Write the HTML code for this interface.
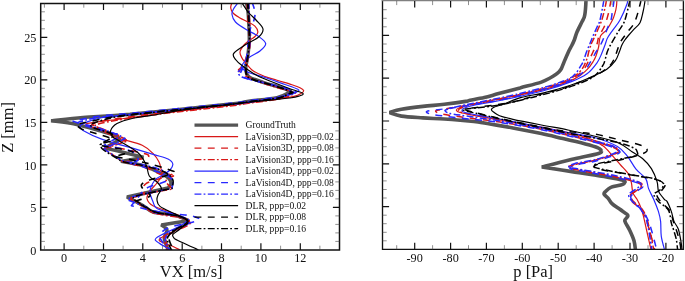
<!DOCTYPE html>
<html><head><meta charset="utf-8"><title>plot</title>
<style>
html,body{margin:0;padding:0;background:#fff;}
svg{display:block;}
text{font-family:"Liberation Serif",serif;fill:#111;}
</style></head><body>
<svg width="685" height="281" viewBox="0 0 685 281">
<rect width="685" height="281" fill="#fff"/>
<defs><clipPath id="cl"><rect x="40.7" y="3.45" width="298.8" height="246.45"/></clipPath><clipPath id="cr"><rect x="382.5" y="0" width="301" height="249.4"/></clipPath></defs>
<g clip-path="url(#cl)" fill="none" stroke-linejoin="round">
<path d="M246.4 2.0C246.7 3.7 247.6 9.0 248.0 12.0C248.4 15.0 248.4 15.3 248.6 20.0C248.8 24.7 249.4 34.2 249.3 40.0C249.2 45.8 248.5 50.3 247.9 55.0C247.3 59.7 245.9 65.0 245.7 68.0C245.5 71.0 245.8 71.4 246.5 73.0C247.2 74.6 247.2 76.0 250.0 77.5C252.8 79.0 257.8 80.6 263.0 82.3C268.2 84.0 276.7 86.1 281.4 87.6C286.1 89.1 289.7 90.8 291.4 91.4C289.0 92.5 284.1 96.1 277.0 97.7C269.9 99.3 256.8 100.1 248.6 101.2C240.4 102.3 247.8 102.1 228.0 104.3C208.2 106.5 154.2 112.1 130.0 114.3C105.8 116.5 96.1 116.4 82.9 117.5C69.8 118.6 56.4 120.2 51.1 120.7C55.2 121.3 67.6 122.6 75.7 124.3C83.8 126.0 93.3 128.8 100.0 130.7C106.7 132.6 112.7 134.3 116.0 135.8C119.3 137.3 119.3 138.9 120.0 139.5C117.5 140.9 107.5 146.6 105.0 148.0C108.3 148.8 118.6 151.2 125.0 152.8C131.4 154.4 140.4 156.6 143.5 157.3C139.8 158.0 124.8 160.7 121.0 161.4C124.7 162.1 136.0 163.5 143.0 165.7C150.0 167.9 158.7 172.4 163.0 174.5C167.3 176.6 167.7 177.0 169.0 178.5C170.3 180.0 171.2 181.9 171.0 183.5C170.8 185.1 168.5 187.2 168.0 188.0C161.2 189.5 133.8 195.5 127.0 197.0C129.9 198.6 140.0 203.9 144.3 206.4C148.6 208.9 148.0 210.6 153.0 212.0C158.0 213.4 168.4 213.6 174.3 215.0C180.2 216.4 186.2 219.8 188.6 220.7C184.1 221.4 165.9 224.3 161.4 225.0C162.3 225.8 166.5 227.7 167.0 230.0C167.5 232.3 164.0 235.1 164.3 238.6C164.6 242.1 167.9 248.9 168.6 251.0" stroke="#555" stroke-width="3.5" stroke-linejoin="bevel"/>
<path d="M232.1 2.0C231.9 3.0 230.5 6.1 230.7 8.0C230.9 9.9 231.9 11.8 233.5 13.5C235.1 15.2 237.7 16.6 240.0 18.0C242.3 19.4 244.9 20.3 247.4 21.7C249.9 23.1 253.2 24.5 254.9 26.2C256.6 27.9 257.9 30.3 257.9 32.0C257.9 33.7 256.3 35.2 255.0 36.5C253.7 37.8 251.8 38.6 250.0 40.0C248.2 41.4 245.7 43.0 244.0 45.0C242.3 47.0 240.3 49.8 240.0 52.0C239.7 54.2 241.2 56.3 242.0 58.0C242.8 59.7 243.2 59.9 245.0 62.0C246.8 64.1 249.7 68.3 253.0 70.7C256.3 73.1 261.0 74.9 265.0 76.5C269.0 78.1 272.5 78.8 277.0 80.2C281.5 81.6 288.2 83.4 292.0 84.7C295.8 86.0 298.1 86.8 300.0 87.8C301.9 88.8 303.5 89.8 303.7 90.7C303.9 91.7 302.6 92.6 301.0 93.5C299.4 94.4 299.2 95.2 294.0 96.3C288.8 97.4 281.0 98.5 270.0 100.0C259.0 101.5 246.3 103.2 228.0 105.5C209.7 107.8 178.0 111.2 160.0 113.5C142.0 115.8 130.5 117.6 120.0 119.0C109.5 120.4 102.7 121.1 97.0 122.0C91.3 122.9 85.5 123.2 86.0 124.5C86.5 125.8 94.5 127.7 100.0 130.0C105.5 132.3 111.7 135.7 118.7 138.2C125.7 140.7 136.3 142.5 142.2 145.2C148.1 147.9 151.2 151.8 154.0 154.6C156.8 157.4 157.8 159.7 159.0 162.0C160.2 164.3 160.5 166.5 161.0 168.7C161.5 170.9 162.7 172.6 162.0 175.0C161.3 177.4 159.0 180.3 157.0 183.0C155.0 185.7 151.7 188.4 150.0 191.0C148.3 193.6 146.5 196.2 147.0 198.6C147.5 201.0 149.1 203.5 152.9 205.7C156.7 207.9 164.8 210.0 170.0 212.0C175.2 214.0 180.8 216.3 184.0 217.9C187.2 219.5 190.0 219.7 189.3 221.4C188.6 223.1 184.9 225.1 180.0 228.0C175.1 230.9 162.7 236.1 160.0 238.6C157.3 241.1 162.1 241.8 164.0 243.0C165.9 244.2 168.7 244.5 171.4 245.7C174.1 246.9 178.6 249.3 180.0 250.0" stroke="#d81818" stroke-width="1.2"/>
<path d="M247.0 2.0C247.2 5.0 247.7 13.7 248.0 20.0C248.3 26.3 249.2 34.2 249.0 40.0C248.8 45.8 248.0 50.8 247.0 55.0C246.0 59.2 244.4 62.5 243.0 65.0C241.6 67.5 239.2 69.2 238.5 70.0C239.3 70.8 241.4 73.3 243.3 74.6C245.2 75.9 246.7 76.7 250.0 78.0C253.3 79.3 257.5 80.9 263.0 82.6C268.5 84.3 277.8 86.8 283.0 88.4C288.2 90.0 292.2 91.4 294.0 92.0C291.7 92.9 287.6 95.8 280.0 97.5C272.4 99.2 257.3 100.8 248.6 102.0C239.9 103.2 242.8 103.2 228.0 105.0C213.2 106.8 177.2 110.7 160.0 112.8C142.8 114.9 135.0 116.1 125.0 117.6C115.0 119.0 105.5 120.3 100.0 121.5C94.5 122.7 93.1 124.2 91.7 124.7C93.9 125.6 100.3 128.1 105.0 130.0C109.7 131.9 116.5 134.3 120.0 136.0C123.5 137.7 125.0 139.3 126.0 140.0C123.7 140.8 115.8 143.4 112.0 144.5C108.2 145.6 104.9 146.3 103.5 146.7C106.2 147.0 114.8 147.5 120.0 148.3C125.2 149.1 130.4 150.5 135.0 151.5C139.6 152.5 145.2 153.5 147.5 154.5C149.8 155.5 148.3 157.0 148.5 157.5C146.2 157.9 139.1 159.2 135.0 160.0C130.9 160.8 125.8 161.9 124.0 162.3C127.5 163.2 138.5 165.4 145.0 167.5C151.5 169.6 158.5 173.8 163.0 175.0C167.5 176.2 170.4 174.6 171.9 174.5C169.8 175.2 163.7 177.2 159.4 178.7C155.1 180.2 148.8 181.8 146.0 183.6C143.2 185.3 143.2 188.3 142.7 189.2C142.9 189.8 145.3 191.7 144.0 192.8C142.7 193.9 137.3 195.0 135.0 196.0C132.7 197.0 130.8 198.5 130.0 199.0C132.3 200.3 140.2 204.6 144.0 206.8C147.8 209.0 148.0 210.8 153.0 212.3C158.0 213.8 168.7 214.7 174.0 215.8C179.3 216.9 182.4 217.7 185.0 218.7C187.6 219.7 189.4 220.5 189.5 221.6C189.6 222.7 188.3 223.5 185.5 225.0C182.7 226.5 175.8 228.7 172.5 230.5C169.2 232.3 166.8 234.2 165.5 236.0C164.2 237.8 164.1 238.5 164.5 241.0C164.9 243.5 167.4 249.3 168.0 251.0" stroke="#d81818" stroke-width="1.6" stroke-dasharray="6.9 6.4"/>
<path d="M248.5 2.0C248.7 5.0 249.2 13.7 249.5 20.0C249.8 26.3 250.7 34.2 250.5 40.0C250.3 45.8 249.2 50.3 248.5 55.0C247.8 59.7 246.8 64.8 246.5 68.0C246.2 71.2 245.8 72.2 246.5 74.0C247.2 75.8 248.1 76.9 251.0 78.5C253.9 80.1 258.5 81.7 264.0 83.5C269.5 85.3 278.8 87.8 284.0 89.4C289.2 91.0 293.6 92.4 295.5 93.0C293.1 93.9 288.6 96.8 281.0 98.5C273.4 100.2 258.6 101.8 250.0 103.0C241.4 104.2 244.5 104.2 229.5 106.0C214.5 107.8 177.4 111.8 160.0 114.0C142.6 116.2 134.7 117.4 125.0 118.9C115.3 120.4 107.1 121.8 102.0 123.0C96.9 124.2 95.7 125.3 94.4 125.8C96.3 126.7 101.6 129.1 106.0 131.0C110.4 132.9 117.4 135.3 121.0 137.0C124.6 138.7 126.4 140.3 127.5 141.0C125.2 141.8 117.4 144.2 113.5 145.5C109.6 146.8 105.6 148.2 104.0 148.8C106.3 150.4 114.5 156.2 118.0 158.5C121.5 160.8 120.8 161.1 125.0 162.3C129.2 163.6 137.2 164.6 143.0 166.0C148.8 167.4 155.8 169.2 160.0 170.5C164.2 171.8 165.8 173.1 168.0 174.0C170.2 174.9 172.5 175.7 173.4 176.0C172.2 176.8 166.2 178.8 166.0 181.0C165.8 183.2 171.4 187.7 172.5 189.0C168.8 189.7 156.8 191.5 150.0 193.0C143.2 194.5 134.6 197.2 131.5 198.0C133.8 199.6 141.7 205.2 145.5 207.8C149.3 210.4 149.5 211.8 154.5 213.3C159.5 214.8 170.2 215.8 175.5 216.8C180.8 217.8 183.5 218.6 186.0 219.5C188.5 220.4 190.4 221.3 190.5 222.4C190.6 223.5 189.2 224.5 186.5 226.0C183.8 227.5 177.2 229.7 174.0 231.5C170.8 233.3 168.3 235.2 167.0 237.0C165.7 238.8 165.6 239.7 166.0 242.0C166.4 244.3 168.9 249.5 169.5 251.0" stroke="#d81818" stroke-width="1.6" stroke-dasharray="6.9 2.2 1.8 2.4"/>
<path d="M238.6 2.0C237.8 3.2 234.6 6.9 233.5 9.0C232.4 11.1 231.7 12.3 232.0 14.5C232.3 16.7 233.0 19.4 235.5 22.0C238.0 24.6 243.2 27.7 247.0 30.0C250.8 32.3 254.9 33.7 258.0 36.0C261.1 38.3 265.4 41.1 265.7 43.6C266.0 46.1 262.9 48.6 260.0 51.0C257.1 53.4 251.7 55.3 248.6 57.9C245.5 60.5 242.2 64.4 241.4 66.4C240.6 68.4 242.6 68.9 244.0 70.0C245.4 71.1 246.5 71.8 250.0 73.0C253.5 74.2 259.2 75.6 265.0 77.5C270.8 79.4 279.8 82.7 285.0 84.5C290.2 86.3 293.7 87.5 296.0 88.5C298.3 89.5 299.0 89.6 299.0 90.3C299.0 91.0 297.8 91.6 296.0 92.5C294.2 93.4 293.7 94.2 288.0 95.5C282.3 96.8 272.0 99.0 262.0 100.5C252.0 102.0 250.0 102.2 228.0 104.5C206.0 106.8 151.3 112.2 130.0 114.4C108.7 116.7 107.3 116.7 100.0 118.0C92.7 119.3 89.3 121.2 86.0 122.5C82.7 123.8 80.3 124.6 80.0 126.0C79.7 127.4 80.3 128.8 84.0 131.0C87.7 133.2 94.5 136.6 102.3 139.4C110.0 142.2 121.9 145.1 130.5 147.6C139.1 150.1 147.8 152.7 154.0 154.6C160.2 156.5 164.9 157.4 168.0 159.0C171.1 160.6 172.5 162.2 172.8 164.0C173.1 165.8 171.6 168.2 170.0 170.0C168.4 171.8 165.9 172.9 163.4 174.6C160.9 176.3 157.2 177.2 155.0 180.0C152.8 182.8 150.3 187.8 150.0 191.4C149.7 195.0 151.7 198.5 152.9 201.4C154.1 204.3 153.4 206.4 157.0 208.6C160.6 210.8 169.6 212.6 174.3 214.3C179.0 216.0 183.1 217.3 185.0 218.6C186.9 219.9 187.2 220.6 186.0 222.0C184.8 223.4 182.9 224.3 178.0 227.0C173.1 229.7 159.6 235.2 156.4 237.9C153.2 240.6 157.4 241.5 159.0 243.0C160.6 244.5 163.5 245.8 165.7 247.0C167.9 248.2 170.9 249.5 172.0 250.0" stroke="#2828ff" stroke-width="1.2"/>
<path d="M252.0 2.0C252.5 3.7 254.7 9.0 255.0 12.0C255.3 15.0 254.8 17.0 254.0 20.0C253.2 23.0 251.0 25.8 250.0 30.0C249.0 34.2 248.7 40.0 248.0 45.0C247.3 50.0 247.3 55.2 246.0 60.0C244.7 64.8 241.0 71.7 240.0 74.0C240.9 74.7 241.5 76.5 245.7 78.0C249.9 79.5 258.4 81.3 265.0 83.0C271.6 84.7 279.8 86.6 285.0 88.0C290.2 89.4 294.2 90.9 296.0 91.5C294.2 92.2 292.7 94.5 285.0 96.0C277.3 97.5 259.5 99.2 250.0 100.5C240.5 101.8 248.0 101.3 228.0 103.5C208.0 105.7 151.3 111.3 130.0 113.4C108.7 115.5 109.5 114.7 100.0 116.0C90.5 117.3 77.5 120.3 73.0 121.2C76.1 122.3 85.9 126.0 91.7 127.8C97.5 129.6 104.2 130.9 107.7 131.8C111.2 132.8 111.1 133.1 113.0 133.5C114.9 133.9 118.0 133.9 119.0 134.0C119.0 134.5 120.5 135.7 119.0 137.0C117.5 138.3 112.5 140.2 110.0 141.6C107.5 143.0 105.0 144.8 104.0 145.5C106.3 145.9 113.3 147.0 118.0 148.0C122.7 149.0 128.9 150.2 132.0 151.5C135.1 152.8 135.5 154.5 136.4 156.0C137.3 157.5 139.1 159.4 137.7 160.5C136.3 161.6 129.6 162.2 128.0 162.5C130.8 163.3 138.8 165.5 145.0 167.5C151.2 169.5 160.5 172.6 165.0 174.5C169.5 176.4 170.8 178.2 172.0 179.0C170.0 179.8 163.7 182.2 160.0 183.5C156.3 184.8 152.7 185.6 150.0 186.6C147.3 187.6 145.0 189.0 144.0 189.5C143.3 190.4 142.1 192.3 140.0 195.0C137.9 197.7 132.8 203.9 131.4 205.7C135.0 206.5 145.7 209.3 153.0 210.7C160.3 212.1 168.7 213.2 175.0 214.0C181.3 214.8 186.6 214.9 190.7 215.7C194.8 216.5 197.9 218.1 199.3 218.6C198.6 219.1 200.2 219.8 195.0 221.4C189.8 223.0 173.8 225.6 168.0 228.0C162.2 230.4 160.8 233.5 160.0 236.0C159.2 238.5 161.8 240.5 163.0 243.0C164.2 245.5 166.3 249.7 167.0 251.0" stroke="#2828ff" stroke-width="1.6" stroke-dasharray="6.9 6.4"/>
<path d="M249.0 2.0C249.0 5.0 248.8 13.7 249.0 20.0C249.2 26.3 250.2 34.2 250.0 40.0C249.8 45.8 249.0 50.7 248.0 55.0C247.0 59.3 245.7 63.2 244.0 66.0C242.3 68.8 239.0 71.0 238.0 72.0C238.7 72.8 238.0 75.2 242.0 77.0C246.0 78.8 255.2 80.7 262.0 82.5C268.8 84.3 277.8 86.4 283.0 88.0C288.2 89.6 291.3 91.3 293.0 92.0C290.7 92.9 286.4 95.9 279.0 97.5C271.6 99.1 257.1 100.3 248.6 101.5C240.1 102.7 247.8 102.4 228.0 104.6C208.2 106.8 152.2 112.4 130.0 114.6C107.8 116.8 103.7 116.7 95.0 118.0C86.3 119.3 80.8 121.8 78.0 122.5C81.3 123.4 91.7 126.1 98.0 128.0C104.3 129.9 111.5 132.2 116.0 134.0C120.5 135.8 123.5 137.8 125.0 138.5C122.8 139.6 115.7 143.3 112.0 145.0C108.3 146.7 104.5 147.9 103.0 148.5C105.4 150.0 113.7 155.4 117.3 157.5C120.9 159.6 120.4 160.1 124.5 161.3C128.6 162.5 136.1 163.1 142.0 164.5C147.9 165.9 155.7 167.8 160.0 169.5C164.3 171.2 165.9 172.6 168.0 174.5C170.1 176.4 171.8 178.7 172.5 181.0C173.2 183.3 172.1 187.2 172.0 188.4C165.8 189.7 142.3 194.1 135.0 196.0C127.7 197.9 129.2 199.3 128.0 200.0C131.0 201.2 141.5 204.9 146.0 207.0C150.5 209.1 150.0 211.1 155.0 212.5C160.0 213.9 170.8 214.5 176.0 215.5C181.2 216.5 183.7 217.5 186.0 218.5C188.3 219.5 190.0 220.4 190.0 221.5C190.0 222.6 188.8 223.5 186.0 225.0C183.2 226.5 176.2 228.7 173.0 230.5C169.8 232.3 167.8 234.2 166.5 236.0C165.2 237.8 164.9 238.5 165.5 241.0C166.1 243.5 169.2 249.3 170.0 251.0" stroke="#2828ff" stroke-width="1.6" stroke-dasharray="6.9 2.2 1.8 2.4"/>
<path d="M241.4 2.0C242.6 3.8 246.1 9.5 248.5 12.5C250.9 15.5 253.6 17.2 256.0 20.0C258.4 22.8 262.6 26.2 263.0 29.0C263.4 31.8 261.6 34.3 258.6 37.0C255.6 39.7 249.2 42.2 245.0 45.0C240.8 47.8 235.1 51.1 233.6 53.6C232.1 56.1 234.7 58.1 236.0 60.0C237.3 61.9 237.9 62.4 241.4 65.0C244.9 67.6 251.4 72.5 257.0 75.5C262.6 78.5 269.2 80.7 275.0 83.0C280.8 85.3 287.8 88.0 292.0 89.5C296.2 91.0 298.1 91.3 300.0 92.0C301.9 92.7 303.3 93.3 303.3 93.9C303.3 94.5 302.2 95.0 300.0 95.7C297.8 96.4 297.5 97.0 290.0 98.0C282.5 99.0 265.3 100.4 255.0 101.5C244.7 102.6 237.2 103.6 228.0 104.6C218.8 105.6 208.8 106.5 200.0 107.6C191.2 108.7 183.3 109.8 175.0 111.2C166.7 112.6 156.8 114.6 150.0 115.7C143.2 116.8 139.5 116.7 134.0 118.0C128.5 119.3 120.9 121.4 117.0 123.6C113.1 125.8 111.2 128.8 110.5 131.0C109.8 133.2 111.6 135.4 113.0 137.0C114.4 138.6 114.6 137.9 118.7 140.5C122.8 143.1 133.0 148.4 137.5 152.3C142.0 156.2 143.8 160.1 145.8 164.0C147.8 167.9 147.4 173.0 149.3 176.0C151.2 179.0 155.0 179.9 157.0 182.0C159.0 184.1 161.2 186.4 161.4 188.6C161.6 190.8 158.7 193.1 158.0 195.0C157.3 196.9 156.7 198.1 157.0 200.0C157.3 201.9 157.1 204.1 160.0 206.4C162.9 208.7 170.2 211.6 174.3 213.6C178.4 215.6 182.2 217.2 184.3 218.6C186.4 220.0 187.7 220.3 187.0 222.0C186.3 223.7 182.3 226.9 180.0 229.0C177.7 231.1 173.9 232.8 172.9 234.3C171.9 235.8 173.3 237.1 174.0 238.0C174.7 238.9 173.4 238.2 177.0 240.0C180.6 241.8 192.0 246.8 195.7 248.6C199.4 250.4 198.4 250.6 199.0 251.0" stroke="#000" stroke-width="1.2"/>
<path d="M248.0 2.0C248.2 5.0 248.8 13.7 249.0 20.0C249.2 26.3 249.7 34.2 249.5 40.0C249.3 45.8 248.6 50.3 248.0 55.0C247.4 59.7 246.2 64.7 246.0 68.0C245.8 71.3 246.0 73.2 247.0 75.0C248.0 76.8 249.0 77.7 252.0 79.0C255.0 80.3 259.8 81.4 265.0 83.0C270.2 84.6 278.3 86.9 283.0 88.5C287.7 90.1 291.3 91.8 293.0 92.5C290.7 93.4 286.4 96.5 279.0 98.0C271.6 99.5 257.1 100.5 248.6 101.6C240.1 102.7 247.8 102.2 228.0 104.4C208.2 106.6 152.0 112.0 130.0 114.6C108.0 117.2 105.0 118.5 96.0 120.2C87.0 121.9 79.3 123.8 76.0 124.5C76.9 125.2 78.2 127.4 81.5 128.9C84.8 130.4 91.2 132.1 96.0 133.6C100.8 135.1 107.3 136.8 110.0 138.0C112.7 139.2 111.7 140.5 112.0 141.0C110.0 141.7 98.7 143.7 100.0 145.0C101.3 146.3 114.5 147.7 120.0 148.8C125.5 149.9 130.8 151.3 133.0 151.8C129.8 152.6 117.2 155.7 114.0 156.5C117.5 157.2 129.0 159.2 135.0 160.5C141.0 161.8 144.9 162.7 150.0 164.0C155.1 165.3 161.6 167.2 165.6 168.5C169.6 169.8 172.6 171.0 174.0 171.5C172.5 172.2 168.5 174.8 165.0 176.0C161.5 177.2 156.2 178.1 153.0 179.0C149.8 179.9 147.7 180.2 145.8 181.2C143.9 182.2 141.9 183.5 141.4 184.8C140.9 186.1 141.6 187.1 143.0 189.0C144.4 190.9 151.3 194.0 150.0 196.0C148.7 198.0 137.5 200.2 135.0 201.0C136.8 202.1 142.3 205.6 146.0 207.5C149.7 209.4 152.0 211.2 157.0 212.5C162.0 213.8 171.3 214.5 176.0 215.5C180.7 216.5 182.9 217.5 185.0 218.5C187.1 219.5 188.5 220.4 188.5 221.5C188.5 222.6 187.3 223.5 185.0 225.0C182.7 226.5 177.0 228.7 174.5 230.5C172.0 232.3 170.8 234.2 170.0 236.0C169.2 237.8 168.8 238.5 169.5 241.0C170.2 243.5 173.2 249.3 174.0 251.0" stroke="#000" stroke-width="1.6" stroke-dasharray="6.9 6.4"/>
<path d="M247.5 2.0C247.7 5.0 248.2 13.7 248.5 20.0C248.8 26.3 249.6 34.2 249.5 40.0C249.4 45.8 248.6 50.3 248.0 55.0C247.4 59.7 246.2 64.7 246.0 68.0C245.8 71.3 245.7 73.2 246.5 75.0C247.3 76.8 248.1 77.7 251.0 79.0C253.9 80.3 258.8 81.5 264.0 83.0C269.2 84.5 277.3 86.8 282.0 88.3C286.7 89.8 290.3 91.5 292.0 92.2C289.7 93.2 285.2 96.4 278.0 98.0C270.8 99.6 256.9 100.7 248.6 101.8C240.3 102.9 247.8 102.6 228.0 104.8C208.2 107.0 150.5 112.5 130.0 115.0C109.5 117.5 111.5 118.0 105.0 119.5C98.5 121.0 93.2 123.4 90.8 124.2C91.2 124.8 89.5 125.9 93.0 127.5C96.5 129.1 109.0 132.2 112.0 134.0C115.0 135.8 112.3 136.7 111.0 138.0C109.7 139.3 105.8 140.9 104.0 142.0C102.2 143.1 100.9 144.2 100.3 144.7C100.8 145.5 100.3 147.3 103.0 149.5C105.7 151.7 113.0 155.9 116.5 158.0C120.0 160.1 119.8 160.8 124.0 162.0C128.2 163.2 136.0 164.0 142.0 165.3C148.0 166.6 155.6 168.5 160.0 170.0C164.4 171.5 166.3 172.8 168.5 174.5C170.7 176.2 172.4 178.2 173.0 180.5C173.6 182.8 172.2 187.1 172.0 188.4C166.3 189.6 144.5 193.7 138.0 195.5C131.5 197.3 133.8 198.4 133.0 199.0C135.2 200.3 142.2 204.8 146.0 207.0C149.8 209.2 151.0 211.1 156.0 212.5C161.0 213.9 171.2 214.5 176.0 215.5C180.8 216.5 182.5 217.4 184.5 218.3C186.5 219.2 188.0 220.1 188.0 221.2C188.0 222.3 186.9 223.1 184.5 224.7C182.1 226.2 176.2 228.6 173.5 230.5C170.8 232.4 169.5 234.2 168.5 236.0C167.5 237.8 166.9 238.5 167.5 241.0C168.1 243.5 171.2 249.3 172.0 251.0" stroke="#000" stroke-width="1.6" stroke-dasharray="6.9 2.2 1.8 2.4"/>
</g>
<g clip-path="url(#cr)" fill="none" stroke-linejoin="round">
<path d="M586.0 0.0C586.0 1.0 585.8 4.0 585.7 6.0C585.6 8.0 585.4 10.2 585.2 12.0C585.0 13.8 584.8 15.4 584.3 17.0C583.8 18.6 583.2 19.3 582.0 21.8C580.8 24.3 578.3 29.0 577.0 32.0C575.7 35.0 575.2 37.7 574.3 40.0C573.4 42.3 572.5 44.1 571.5 46.0C570.5 47.9 569.8 48.8 568.6 51.4C567.4 54.0 565.5 58.5 564.3 61.4C563.1 64.3 562.3 66.8 561.4 68.6C560.5 70.4 559.8 71.0 558.8 72.0C557.8 73.0 557.2 73.6 555.7 74.6C554.2 75.6 552.4 76.8 550.0 78.0C547.6 79.2 546.4 80.4 541.4 82.1C536.4 83.8 527.1 86.0 520.0 87.9C512.9 89.8 504.6 92.0 498.6 93.6C492.7 95.2 489.1 96.5 484.3 97.6C479.5 98.7 473.1 99.6 470.0 100.2C466.9 100.8 470.0 100.7 465.7 101.4C461.4 102.1 451.4 103.5 444.3 104.3C437.2 105.1 430.0 105.6 422.9 106.4C415.8 107.2 407.0 108.3 401.4 109.3C395.8 110.3 391.5 112.0 389.5 112.6C391.5 113.2 395.8 115.2 401.4 116.1C407.0 117.0 415.8 117.4 422.9 117.9C430.0 118.4 437.2 118.5 444.3 119.0C451.4 119.5 460.1 120.2 465.7 120.7C471.3 121.2 473.9 121.4 478.0 121.9C482.1 122.5 484.2 123.0 490.0 124.0C495.8 125.0 504.3 126.3 512.9 127.9C521.5 129.5 533.1 131.8 541.4 133.6C549.7 135.4 555.6 136.9 562.9 138.6C570.2 140.3 579.5 142.5 585.4 144.0C591.2 145.5 595.3 146.7 598.0 147.8C600.7 148.9 600.9 150.1 601.5 150.6C601.0 151.1 603.0 152.1 598.5 153.5C594.0 154.9 584.2 156.6 574.7 158.8C565.2 161.0 547.3 165.6 541.8 166.9C546.8 167.7 561.6 170.0 572.0 171.6C582.4 173.2 595.1 175.1 604.0 176.6C612.9 178.1 622.0 180.1 625.6 180.8C625.1 181.4 625.1 183.2 622.7 184.3C620.3 185.4 614.1 185.9 611.3 187.1C608.4 188.3 606.8 190.2 605.6 191.4C604.4 192.6 603.6 193.1 604.1 194.3C604.6 195.5 607.1 197.1 608.4 198.6C609.7 200.1 610.1 201.8 612.0 203.6C613.9 205.4 617.4 207.5 619.9 209.3C622.4 211.1 625.7 213.1 627.0 214.3C628.3 215.5 628.0 215.5 627.7 216.4C627.4 217.3 625.4 219.0 625.0 220.0C624.6 221.0 624.6 220.7 625.4 222.5C626.2 224.3 628.5 227.7 629.9 230.7C631.3 233.7 633.0 237.3 634.0 240.7C635.0 244.1 635.3 249.3 635.6 251.0" stroke="#555" stroke-width="3.6" stroke-linejoin="bevel"/>
<path d="M616.9 0.0C616.8 1.0 616.8 3.8 616.5 6.0C616.2 8.2 615.7 10.7 615.0 13.0C614.3 15.3 613.9 17.2 612.5 20.0C611.1 22.8 608.7 27.1 606.7 29.8C604.7 32.5 601.9 33.1 600.5 36.0C599.1 38.9 599.3 43.8 598.6 47.0C597.9 50.2 597.1 52.7 596.3 55.0C595.4 57.3 595.0 58.6 593.5 61.0C592.0 63.4 590.2 66.6 587.0 69.6C583.8 72.6 581.4 75.7 574.0 79.1C566.6 82.5 555.0 86.7 542.7 89.9C530.4 93.1 512.1 96.1 500.0 98.5C487.9 100.9 476.8 102.9 470.0 104.5C463.2 106.1 461.3 107.1 459.0 108.0C456.7 108.9 456.2 109.3 456.4 110.1C456.6 110.8 456.1 111.4 460.0 112.5C463.9 113.6 473.3 115.2 480.0 116.5C486.7 117.8 489.6 118.2 500.0 120.0C510.4 121.8 528.5 124.6 542.7 127.4C556.9 130.2 575.4 134.0 585.4 137.0C595.4 140.0 597.9 142.4 602.5 145.6C607.1 148.8 610.0 153.1 613.0 156.3C616.0 159.5 618.0 162.0 620.6 165.0C623.2 168.0 626.8 171.3 628.6 174.3C630.4 177.3 630.7 179.8 631.4 182.9C632.1 186.0 632.0 190.2 632.9 192.9C633.8 195.6 635.6 196.7 637.0 199.3C638.4 201.9 640.1 205.4 641.3 208.6C642.5 211.8 643.0 214.7 644.0 218.6C645.0 222.5 645.8 226.6 647.0 232.0C648.2 237.4 650.6 247.8 651.3 251.0" stroke="#d81818" stroke-width="1.2"/>
<path d="M610.7 0.0C610.7 0.5 610.9 0.8 610.5 3.0C610.1 5.2 609.3 9.7 608.5 13.0C607.7 16.3 606.6 20.2 605.8 22.7C605.0 25.2 604.8 25.6 603.6 28.0C602.4 30.4 599.8 34.3 598.7 37.0C597.6 39.7 598.0 41.5 597.0 44.0C596.0 46.5 594.3 49.3 593.0 52.0C591.7 54.7 590.8 56.8 589.0 60.0C587.2 63.2 585.7 67.8 582.0 71.4C578.3 74.9 574.5 78.0 567.0 81.2C559.5 84.3 548.2 87.4 537.0 90.5C525.8 93.6 512.8 96.8 500.0 99.5C487.2 102.2 470.0 104.8 460.0 106.5C450.0 108.2 444.1 108.9 440.0 109.8C435.9 110.6 435.4 110.7 435.7 111.4C436.0 112.1 437.1 113.0 442.0 114.0C446.9 115.0 455.3 116.2 465.0 117.5C474.7 118.8 487.1 120.0 500.0 122.0C513.0 124.0 528.5 126.6 542.7 129.5C556.9 132.4 574.0 136.7 585.4 139.5C596.8 142.3 605.6 144.8 611.0 146.5C616.4 148.2 616.7 148.8 617.5 150.0C618.3 151.2 619.9 151.8 616.0 153.5C612.1 155.2 601.0 158.7 594.0 160.5C587.0 162.3 578.3 163.2 574.0 164.5C569.7 165.8 567.0 167.0 568.0 168.0C569.0 169.0 572.0 169.0 580.0 170.5C588.0 172.0 606.2 175.0 615.7 177.0C625.2 179.0 632.7 181.0 637.0 182.5C641.3 184.0 641.5 184.8 641.5 186.0C641.5 187.2 638.9 188.4 637.0 190.0C635.1 191.6 630.8 193.6 630.0 195.5C629.2 197.4 630.2 199.2 632.0 201.5C633.8 203.8 638.7 206.5 641.0 209.5C643.3 212.5 644.5 215.8 646.0 219.5C647.5 223.2 648.5 226.8 650.0 232.0C651.5 237.2 654.2 247.8 655.0 251.0" stroke="#d81818" stroke-width="1.5" stroke-dasharray="6.9 6.4"/>
<path d="M606.2 0.0C606.2 0.5 606.4 1.0 606.0 3.0C605.6 5.0 604.7 9.2 604.0 12.0C603.3 14.8 602.6 17.5 601.8 20.0C601.0 22.5 600.3 24.0 599.0 27.0C597.7 30.0 595.4 35.1 594.2 37.8C593.0 40.5 592.5 40.8 591.6 43.0C590.7 45.2 589.9 48.2 589.0 51.0C588.1 53.8 588.0 56.6 586.5 60.0C585.0 63.4 583.6 67.9 580.0 71.5C576.4 75.0 572.5 78.1 565.0 81.2C557.5 84.4 545.8 87.5 535.0 90.5C524.2 93.5 510.5 96.7 500.0 99.0C489.5 101.3 478.5 103.0 472.0 104.5C465.5 106.0 463.2 107.1 461.0 108.0C458.8 108.9 458.4 109.3 458.6 110.1C458.8 110.8 458.1 111.4 462.0 112.5C465.9 113.6 473.5 114.9 482.0 116.5C490.5 118.1 500.0 119.4 513.0 122.0C526.0 124.6 547.2 129.1 560.0 132.0C572.8 134.9 581.3 137.2 590.0 139.5C598.7 141.8 607.3 144.3 612.0 146.0C616.7 147.7 617.2 148.3 618.0 149.5C618.8 150.7 620.7 151.2 617.0 153.0C613.3 154.8 602.7 158.2 596.0 160.0C589.3 161.8 581.2 162.8 577.0 164.0C572.8 165.2 570.2 166.5 571.0 167.5C571.8 168.5 574.5 168.5 582.0 170.0C589.5 171.5 606.4 174.5 615.7 176.5C625.0 178.5 633.5 180.5 638.0 182.0C642.5 183.5 642.5 184.2 642.5 185.5C642.5 186.8 639.9 187.9 638.0 189.5C636.1 191.1 631.8 193.1 631.0 195.0C630.2 196.9 631.2 198.7 633.0 201.0C634.8 203.3 639.7 206.0 642.0 209.0C644.3 212.0 645.7 215.2 647.0 219.0C648.3 222.8 648.8 226.7 650.0 232.0C651.2 237.3 653.3 247.8 654.0 251.0" stroke="#d81818" stroke-width="1.5" stroke-dasharray="6.9 2.2 1.8 2.4"/>
<path d="M627.3 0.0C627.2 0.7 628.2 0.7 627.0 4.0C625.8 7.3 622.3 15.7 620.0 20.0C617.7 24.3 615.1 26.8 613.0 29.8C610.9 32.8 608.9 35.3 607.6 37.8C606.3 40.3 606.0 42.3 605.0 45.0C604.0 47.7 602.8 51.0 601.5 54.0C600.2 57.0 599.4 59.5 597.0 62.8C594.6 66.1 591.2 70.7 587.0 73.8C582.8 76.8 579.4 78.5 572.0 81.4C564.6 84.3 554.7 87.8 542.7 91.0C530.7 94.2 511.3 98.2 500.0 100.5C488.7 102.8 480.9 103.8 475.0 105.0C469.1 106.2 466.7 107.2 464.5 108.0C462.3 108.8 461.9 109.3 462.0 110.1C462.1 110.8 461.2 111.4 465.0 112.5C468.8 113.6 477.0 115.0 485.0 116.5C493.0 118.0 500.5 119.1 513.0 121.5C525.5 123.9 546.2 128.2 560.0 131.0C573.8 133.8 586.4 135.4 596.0 138.0C605.6 140.6 612.1 143.5 617.4 146.6C622.6 149.7 624.4 152.6 627.5 156.4C630.6 160.2 633.0 165.5 636.0 169.2C639.0 172.9 643.6 175.4 645.7 178.6C647.8 181.8 647.2 185.0 648.6 188.6C650.0 192.2 652.4 196.2 654.0 200.0C655.6 203.8 657.3 207.8 658.4 211.4C659.5 215.0 660.1 217.2 660.6 221.4C661.1 225.6 660.6 231.5 661.3 236.4C662.0 241.3 664.3 248.6 664.9 251.0" stroke="#2828ff" stroke-width="1.2"/>
<path d="M613.9 0.0C613.9 0.5 614.0 1.0 613.7 3.0C613.4 5.0 612.8 9.2 612.3 12.0C611.8 14.8 611.8 17.3 611.0 20.0C610.2 22.7 608.6 25.3 607.5 28.0C606.4 30.7 605.6 33.3 604.5 36.0C603.4 38.7 602.4 41.3 601.0 44.0C599.6 46.7 597.6 49.3 596.0 52.0C594.4 54.7 593.5 56.8 591.5 60.0C589.5 63.2 587.8 67.8 584.0 71.3C580.2 74.8 576.5 77.8 569.0 81.0C561.5 84.3 550.5 87.3 539.0 90.5C527.5 93.7 514.0 97.2 500.0 100.0C486.0 102.8 466.3 105.8 455.0 107.5C443.7 109.2 436.8 109.6 432.0 110.4C427.2 111.1 426.2 111.3 426.4 112.0C426.6 112.7 427.4 113.5 433.0 114.5C438.6 115.5 448.8 116.7 460.0 118.0C471.2 119.3 486.2 120.5 500.0 122.5C513.8 124.5 528.5 127.1 542.7 130.0C556.9 132.9 573.9 137.2 585.4 140.0C596.9 142.8 606.4 145.2 612.0 147.0C617.6 148.8 618.1 149.3 619.0 150.5C619.9 151.7 621.3 152.2 617.5 154.0C613.7 155.8 602.9 159.2 596.0 161.0C589.1 162.8 580.3 163.8 576.0 165.0C571.7 166.2 569.0 167.5 570.0 168.5C571.0 169.5 574.4 169.5 582.0 171.0C589.6 172.5 606.4 175.5 615.7 177.5C625.0 179.5 633.5 181.5 638.0 183.0C642.5 184.5 643.0 185.2 643.0 186.5C643.0 187.8 640.0 188.9 638.0 190.5C636.0 192.1 631.8 194.1 631.0 196.0C630.2 197.9 631.2 199.7 633.0 202.0C634.8 204.3 639.5 207.0 642.0 210.0C644.5 213.0 646.3 216.3 648.0 220.0C649.7 223.7 650.5 226.8 652.0 232.0C653.5 237.2 656.2 247.8 657.0 251.0" stroke="#2828ff" stroke-width="1.5" stroke-dasharray="6.9 6.4"/>
<path d="M603.6 0.0C603.6 0.5 604.0 -0.3 603.4 3.0C602.8 6.3 601.0 16.1 600.0 20.0C599.0 23.9 598.5 23.7 597.4 26.2C596.3 28.7 594.7 32.1 593.4 35.1C592.1 38.1 590.9 41.2 589.8 44.0C588.6 46.8 587.5 49.3 586.5 52.0C585.5 54.7 584.7 57.8 583.8 60.0C582.9 62.2 583.1 62.4 581.2 65.1C579.3 67.9 577.2 73.2 572.6 76.5C568.0 79.7 562.2 81.8 553.4 84.6C544.6 87.4 531.4 90.8 520.0 93.5C508.6 96.2 495.0 98.9 485.0 101.0C475.0 103.1 466.2 104.6 460.0 106.0C453.8 107.4 450.5 108.3 448.0 109.1C445.5 109.9 444.7 110.1 445.0 110.8C445.3 111.5 445.8 112.6 450.0 113.5C454.2 114.4 461.7 115.2 470.0 116.5C478.3 117.8 487.9 118.9 500.0 121.0C512.1 123.1 528.5 126.0 542.7 129.0C556.9 132.0 574.2 136.3 585.4 139.0C596.6 141.7 604.8 143.4 610.0 145.0C615.2 146.6 615.3 147.3 616.5 148.5C617.7 149.7 620.4 150.2 617.0 152.0C613.6 153.8 603.0 157.6 596.0 159.5C589.0 161.4 579.5 162.2 575.0 163.5C570.5 164.8 568.2 166.0 569.0 167.0C569.8 168.0 572.2 167.9 580.0 169.3C587.8 170.8 606.2 173.7 615.7 175.7C625.2 177.7 632.8 179.8 637.0 181.4C641.2 183.0 641.2 183.7 641.0 185.0C640.8 186.3 638.0 187.4 636.0 189.0C634.0 190.6 629.8 192.5 629.0 194.3C628.2 196.1 629.2 197.6 631.0 200.0C632.8 202.4 637.5 205.5 640.0 208.6C642.5 211.7 644.5 214.7 646.0 218.6C647.5 222.5 648.0 226.6 649.0 232.0C650.0 237.4 651.5 247.8 652.0 251.0" stroke="#2828ff" stroke-width="1.5" stroke-dasharray="6.9 2.2 1.8 2.4"/>
<path d="M645.0 0.0C645.0 0.5 645.0 1.0 644.7 3.0C644.4 5.0 643.8 8.7 643.0 12.0C642.2 15.3 641.6 19.7 640.0 22.7C638.4 25.7 635.4 27.6 633.4 29.8C631.4 32.0 629.5 34.2 628.0 36.0C626.5 37.8 625.5 39.0 624.5 40.5C623.5 42.0 622.8 43.1 621.9 45.0C621.0 46.9 620.4 49.4 619.3 52.0C618.2 54.6 617.5 57.8 615.4 60.7C613.3 63.6 610.7 66.5 606.8 69.2C602.9 71.9 597.9 74.0 591.9 76.7C585.9 79.4 578.7 82.4 570.5 85.2C562.3 87.9 550.9 91.1 542.7 93.1C534.5 95.1 527.9 95.6 521.4 97.4C514.9 99.2 508.6 102.2 504.0 103.9C499.4 105.6 496.1 106.3 494.0 107.3C491.9 108.3 491.5 108.8 491.4 109.6C491.3 110.4 492.1 111.0 493.5 112.0C494.9 113.0 496.4 114.6 499.6 115.8C502.8 117.0 505.9 117.8 512.9 119.3C519.9 120.8 532.2 123.2 541.4 125.0C550.6 126.8 559.9 128.3 568.0 130.0C576.1 131.7 581.8 132.9 590.0 135.0C598.2 137.1 610.3 139.6 617.4 142.4C624.5 145.2 628.2 149.3 632.4 152.0C636.6 154.7 639.3 155.7 642.5 158.5C645.7 161.3 649.0 164.8 651.4 168.6C653.8 172.4 655.8 177.6 657.0 181.4C658.2 185.2 657.4 188.4 658.6 191.4C659.8 194.4 662.9 197.6 664.3 199.3C665.7 201.0 665.8 199.4 667.0 201.4C668.2 203.4 670.1 208.1 671.3 211.4C672.5 214.7 672.8 218.4 674.0 221.4C675.2 224.4 677.2 225.6 678.4 229.3C679.6 233.0 680.7 240.0 681.3 243.6C681.9 247.2 681.9 249.8 682.0 251.0" stroke="#000" stroke-width="1.2"/>
<path d="M640.6 0.0C640.6 0.5 641.3 -0.6 640.4 3.0C639.5 6.6 637.1 16.6 635.0 21.4C632.9 26.2 630.1 28.4 627.6 32.0C625.1 35.6 622.3 38.3 620.0 43.0C617.7 47.7 616.0 55.7 613.7 60.0C611.4 64.3 609.6 66.2 606.0 69.0C602.4 71.8 599.0 73.8 592.0 77.0C585.0 80.2 574.0 84.8 564.0 88.1C554.0 91.3 540.5 94.2 532.0 96.5C523.5 98.8 521.7 100.2 513.0 102.0C504.3 103.8 487.5 105.9 480.0 107.0C472.5 108.1 470.3 108.0 468.0 108.5C465.7 109.0 464.8 109.4 466.0 110.1C467.2 110.7 467.2 110.6 475.0 112.5C482.8 114.4 498.8 118.3 513.0 121.3C527.2 124.3 546.5 128.4 560.0 130.5C573.5 132.6 583.5 132.3 594.0 134.0C604.5 135.7 615.3 138.9 623.0 140.7C630.7 142.5 636.0 143.6 640.0 145.0C644.0 146.4 646.5 147.9 647.0 149.3C647.5 150.7 647.5 151.8 643.0 153.6C638.5 155.4 627.7 158.2 620.0 160.0C612.3 161.8 601.2 163.2 597.0 164.5C592.8 165.8 594.0 166.6 595.0 167.5C596.0 168.4 598.8 169.1 603.0 170.0C607.2 170.9 613.8 171.9 620.0 173.0C626.2 174.1 634.0 175.4 640.0 176.5C646.0 177.6 651.8 178.2 656.0 179.5C660.2 180.8 664.0 182.2 665.0 184.0C666.0 185.8 663.3 188.2 662.0 190.0C660.7 191.8 657.2 193.0 657.0 195.0C656.8 197.0 658.8 199.3 661.0 202.0C663.2 204.7 667.9 207.7 670.0 211.0C672.1 214.3 672.3 218.5 673.5 222.0C674.7 225.5 675.9 228.5 677.0 232.0C678.1 235.5 679.3 239.8 680.0 243.0C680.7 246.2 680.8 249.7 681.0 251.0" stroke="#000" stroke-width="1.5" stroke-dasharray="6.9 6.4"/>
<path d="M629.5 0.0C629.5 0.5 630.1 -0.6 629.3 3.0C628.4 6.6 626.3 16.6 624.4 21.4C622.5 26.2 620.7 27.4 618.0 32.0C615.3 36.6 610.6 44.3 608.4 49.0C606.2 53.7 606.0 57.2 605.0 60.0C604.0 62.8 604.7 63.0 602.5 66.0C600.3 69.0 598.4 74.0 592.0 77.8C585.6 81.6 574.0 85.4 564.0 88.7C554.0 92.0 542.7 94.7 532.0 97.4C521.3 100.1 509.5 103.1 500.0 104.9C490.5 106.7 480.9 107.3 475.0 108.0C469.1 108.7 466.3 108.7 464.5 109.1C462.7 109.5 462.2 109.7 464.0 110.4C465.8 111.0 466.8 111.1 475.0 113.0C483.2 114.9 498.8 118.7 513.0 121.8C527.2 124.9 545.5 128.6 560.0 131.5C574.5 134.4 590.0 137.1 600.0 139.0C610.0 140.9 614.3 141.5 620.0 143.0C625.7 144.5 631.2 146.6 634.0 148.0C636.8 149.4 636.7 150.1 637.0 151.4C637.3 152.7 639.2 154.3 635.7 155.7C632.2 157.1 622.4 158.6 615.7 160.0C609.0 161.4 599.3 163.1 595.7 164.3C592.1 165.5 593.1 166.2 594.0 167.0C594.9 167.8 597.4 168.2 601.0 169.0C604.6 169.8 609.7 170.9 615.7 172.0C621.7 173.1 630.6 174.6 637.0 175.7C643.4 176.8 649.6 177.3 654.0 178.6C658.4 179.9 662.6 181.7 663.6 183.6C664.6 185.5 661.6 188.2 660.0 190.0C658.4 191.8 654.3 192.4 654.0 194.3C653.7 196.2 656.0 198.8 658.4 201.4C660.8 204.0 666.2 206.4 668.4 210.0C670.5 213.6 670.5 219.7 671.3 222.9C672.1 226.1 672.6 226.6 673.4 229.3C674.2 232.0 675.6 235.7 676.3 239.3C677.0 242.9 677.5 249.1 677.7 251.0" stroke="#000" stroke-width="1.5" stroke-dasharray="6.9 2.2 1.8 2.4"/>
</g>
<g stroke="#111" fill="none"><rect x="40.7" y="3.5" width="298.8" height="246.5" stroke-width="1.5"/><path d="M64.1 249.9v-6.6M64.1 3.5v6.6M103.5 249.9v-6.6M103.5 3.5v6.6M142.8 249.9v-6.6M142.8 3.5v6.6M182.2 249.9v-6.6M182.2 3.5v6.6M221.5 249.9v-6.6M221.5 3.5v6.6M260.9 249.9v-6.6M260.9 3.5v6.6M300.3 249.9v-6.6M300.3 3.5v6.6M40.7 207.4h6.6M339.5 207.4h-6.6M40.7 164.9h6.6M339.5 164.9h-6.6M40.7 122.4h6.6M339.5 122.4h-6.6M40.7 79.8h6.6M339.5 79.8h-6.6M40.7 37.3h6.6M339.5 37.3h-6.6" stroke-width="1.2"/><path d="M44.4 249.9v-4.2M44.4 3.5v4.2M83.8 249.9v-4.2M83.8 3.5v4.2M123.1 249.9v-4.2M123.1 3.5v4.2M162.5 249.9v-4.2M162.5 3.5v4.2M201.9 249.9v-4.2M201.9 3.5v4.2M241.2 249.9v-4.2M241.2 3.5v4.2M280.6 249.9v-4.2M280.6 3.5v4.2M319.9 249.9v-4.2M319.9 3.5v4.2M40.7 241.4h4.2M339.5 241.4h-4.2M40.7 232.9h4.2M339.5 232.9h-4.2M40.7 224.4h4.2M339.5 224.4h-4.2M40.7 215.9h4.2M339.5 215.9h-4.2M40.7 198.9h4.2M339.5 198.9h-4.2M40.7 190.4h4.2M339.5 190.4h-4.2M40.7 181.9h4.2M339.5 181.9h-4.2M40.7 173.4h4.2M339.5 173.4h-4.2M40.7 156.4h4.2M339.5 156.4h-4.2M40.7 147.9h4.2M339.5 147.9h-4.2M40.7 139.4h4.2M339.5 139.4h-4.2M40.7 130.9h4.2M339.5 130.9h-4.2M40.7 113.9h4.2M339.5 113.9h-4.2M40.7 105.3h4.2M339.5 105.3h-4.2M40.7 96.8h4.2M339.5 96.8h-4.2M40.7 88.3h4.2M339.5 88.3h-4.2M40.7 71.3h4.2M339.5 71.3h-4.2M40.7 62.8h4.2M339.5 62.8h-4.2M40.7 54.3h4.2M339.5 54.3h-4.2M40.7 45.8h4.2M339.5 45.8h-4.2M40.7 28.8h4.2M339.5 28.8h-4.2M40.7 20.3h4.2M339.5 20.3h-4.2M40.7 11.8h4.2M339.5 11.8h-4.2" stroke-width="0.6" stroke="#444"/></g>
<g stroke="#111" fill="none"><path d="M382.5 0V249.4H683.4V0" stroke-width="1.35" stroke-linejoin="miter"/><path d="M381.8 0.55H684.1" stroke-width="1.3" stroke="#808080"/><path d="M414.7 249.4v-6.6M414.7 0.9v6.6M450.6 249.4v-6.6M450.6 0.9v6.6M486.4 249.4v-6.6M486.4 0.9v6.6M522.3 249.4v-6.6M522.3 0.9v6.6M558.2 249.4v-6.6M558.2 0.9v6.6M594.1 249.4v-6.6M594.1 0.9v6.6M630.0 249.4v-6.6M630.0 0.9v6.6M665.9 249.4v-6.6M665.9 0.9v6.6M382.5 206.6h6.6M683.4 206.6h-6.6M382.5 163.8h6.6M683.4 163.8h-6.6M382.5 121.0h6.6M683.4 121.0h-6.6M382.5 78.2h6.6M683.4 78.2h-6.6M382.5 35.4h6.6M683.4 35.4h-6.6" stroke-width="1.2"/><path d="M396.7 249.4v-4.2M396.7 0.9v4.2M432.6 249.4v-4.2M432.6 0.9v4.2M468.5 249.4v-4.2M468.5 0.9v4.2M504.4 249.4v-4.2M504.4 0.9v4.2M540.3 249.4v-4.2M540.3 0.9v4.2M576.2 249.4v-4.2M576.2 0.9v4.2M612.1 249.4v-4.2M612.1 0.9v4.2M648.0 249.4v-4.2M648.0 0.9v4.2M382.5 240.8h4.2M683.4 240.8h-4.2M382.5 232.3h4.2M683.4 232.3h-4.2M382.5 223.7h4.2M683.4 223.7h-4.2M382.5 215.2h4.2M683.4 215.2h-4.2M382.5 198.0h4.2M683.4 198.0h-4.2M382.5 189.5h4.2M683.4 189.5h-4.2M382.5 180.9h4.2M683.4 180.9h-4.2M382.5 172.4h4.2M683.4 172.4h-4.2M382.5 155.2h4.2M683.4 155.2h-4.2M382.5 146.7h4.2M683.4 146.7h-4.2M382.5 138.1h4.2M683.4 138.1h-4.2M382.5 129.6h4.2M683.4 129.6h-4.2M382.5 112.4h4.2M683.4 112.4h-4.2M382.5 103.9h4.2M683.4 103.9h-4.2M382.5 95.3h4.2M683.4 95.3h-4.2M382.5 86.8h4.2M683.4 86.8h-4.2M382.5 69.6h4.2M683.4 69.6h-4.2M382.5 61.1h4.2M683.4 61.1h-4.2M382.5 52.5h4.2M683.4 52.5h-4.2M382.5 44.0h4.2M683.4 44.0h-4.2M382.5 26.8h4.2M683.4 26.8h-4.2M382.5 18.3h4.2M683.4 18.3h-4.2M382.5 9.7h4.2M683.4 9.7h-4.2" stroke-width="0.6" stroke="#444"/></g>
<g font-size="13" text-anchor="middle"><text transform="translate(64.1 262) scale(0.94 1.0)">0</text><text transform="translate(103.5 262) scale(0.94 1.0)">2</text><text transform="translate(142.8 262) scale(0.94 1.0)">4</text><text transform="translate(182.2 262) scale(0.94 1.0)">6</text><text transform="translate(221.5 262) scale(0.94 1.0)">8</text><text transform="translate(260.9 262) scale(0.94 1.0)">10</text><text transform="translate(300.3 262) scale(0.94 1.0)">12</text><text transform="translate(414.7 261.8) scale(0.94 1.0)">-90</text><text transform="translate(450.6 261.8) scale(0.94 1.0)">-80</text><text transform="translate(486.4 261.8) scale(0.94 1.0)">-70</text><text transform="translate(522.3 261.8) scale(0.94 1.0)">-60</text><text transform="translate(558.2 261.8) scale(0.94 1.0)">-50</text><text transform="translate(594.1 261.8) scale(0.94 1.0)">-40</text><text transform="translate(630.0 261.8) scale(0.94 1.0)">-30</text><text transform="translate(665.9 261.8) scale(0.94 1.0)">-20</text></g>
<g font-size="13" text-anchor="end"><text transform="translate(36.4 254.5) scale(0.94 1.0)">0</text><text transform="translate(36.4 212.0) scale(0.94 1.0)">5</text><text transform="translate(36.4 169.5) scale(0.94 1.0)">10</text><text transform="translate(36.4 127.0) scale(0.94 1.0)">15</text><text transform="translate(36.4 84.4) scale(0.94 1.0)">20</text><text transform="translate(36.4 41.9) scale(0.94 1.0)">25</text></g>
<text x="191.2" y="276.9" font-size="16.5" text-anchor="middle">VX [m/s]</text>
<text x="533.2" y="276.9" font-size="16.5" text-anchor="middle">p [Pa]</text>
<text transform="translate(13.4 127.4) rotate(-90)" font-size="16.5" text-anchor="middle">Z [mm]</text>
<g fill="none"><path d="M194.5 125.1H238.1" stroke="#555" stroke-width="3.2"/><path d="M194.5 136.6H238.1" stroke="#d81818" stroke-width="1.3"/><path d="M194.5 148.1H238.1" stroke="#d81818" stroke-width="1.4" stroke-dasharray="6.9 6.4"/><path d="M194.5 159.6H238.1" stroke="#d81818" stroke-width="1.4" stroke-dasharray="6.9 2.2 1.8 2.4"/><path d="M194.5 171.1H238.1" stroke="#2828ff" stroke-width="1.3"/><path d="M194.5 182.6H238.1" stroke="#2828ff" stroke-width="1.4" stroke-dasharray="6.9 6.4"/><path d="M194.5 194.1H238.1" stroke="#2828ff" stroke-width="1.4" stroke-dasharray="6.9 2.2 1.8 2.4"/><path d="M194.5 205.6H238.1" stroke="#000" stroke-width="1.3"/><path d="M194.5 217.1H238.1" stroke="#000" stroke-width="1.4" stroke-dasharray="6.9 6.4"/><path d="M194.5 228.6H238.1" stroke="#000" stroke-width="1.4" stroke-dasharray="6.9 2.2 1.8 2.4"/></g>
<g font-size="9.6"><text x="245.6" y="128.3">GroundTruth</text><text x="245.6" y="139.8">LaVision3D, ppp=0.02</text><text x="245.6" y="151.3">LaVision3D, ppp=0.08</text><text x="245.6" y="162.8">LaVision3D, ppp=0.16</text><text x="245.6" y="174.3">LaVision4D, ppp=0.02</text><text x="245.6" y="185.8">LaVision4D, ppp=0.08</text><text x="245.6" y="197.3">LaVision4D, ppp=0.16</text><text x="245.6" y="208.8">DLR, ppp=0.02</text><text x="245.6" y="220.3">DLR, ppp=0.08</text><text x="245.6" y="231.8">DLR, ppp=0.16</text></g>
</svg>
</body></html>
